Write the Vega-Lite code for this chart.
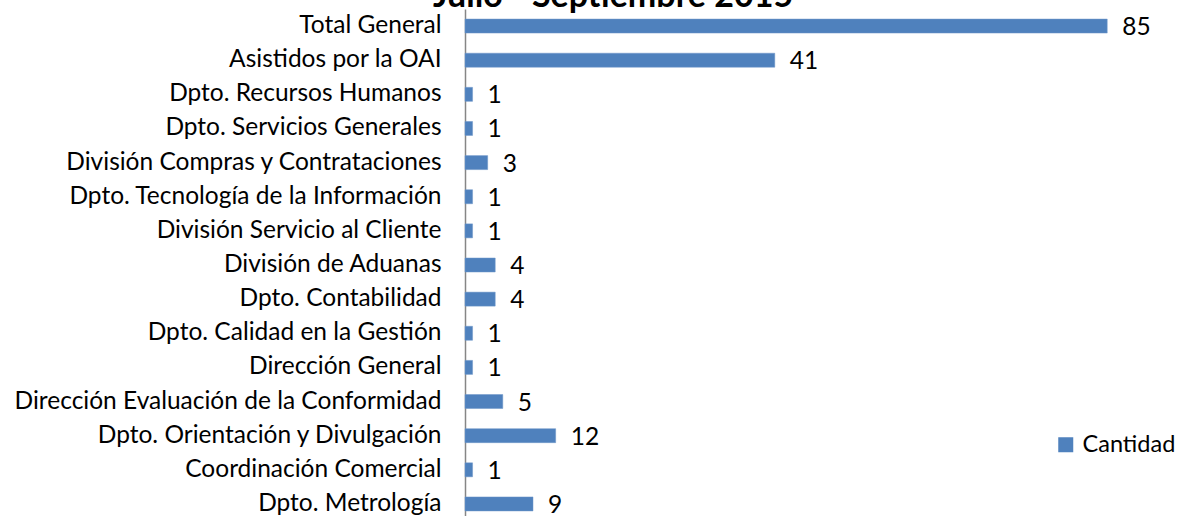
{
  "$schema": "https://vega.github.io/schema/vega-lite/v6.json",
  "autosize": "none",
  "padding": {"left": 465, "top": 9, "right": 34, "bottom": 0},
  "width": 680,
  "height": 512,
  "background": "white",
  "title": {
    "text": "Julio - Septiembre 2015",
    "font": "Lato",
    "fontSize": 34,
    "fontWeight": "bold",
    "color": "black",
    "anchor": "middle",
    "frame": "group",
    "offset": -5,
    "dx": -192
  },
  "data": {
    "values": [
      {"area": "Total General", "cantidad": 85},
      {"area": "Asistidos por la OAI", "cantidad": 41},
      {"area": "Dpto. Recursos Humanos", "cantidad": 1},
      {"area": "Dpto. Servicios Generales", "cantidad": 1},
      {"area": "División Compras y Contrataciones", "cantidad": 3},
      {"area": "Dpto. Tecnología de la Información", "cantidad": 1},
      {"area": "División Servicio al Cliente", "cantidad": 1},
      {"area": "División de Aduanas", "cantidad": 4},
      {"area": "Dpto. Contabilidad", "cantidad": 4},
      {"area": "Dpto. Calidad en la Gestión", "cantidad": 1},
      {"area": "Dirección General", "cantidad": 1},
      {"area": "Dirección Evaluación de la Conformidad", "cantidad": 5},
      {"area": "Dpto. Orientación y Divulgación ", "cantidad": 12},
      {"area": "Coordinación Comercial", "cantidad": 1},
      {"area": "Dpto. Metrología", "cantidad": 9}
    ]
  },
  "encoding": {
    "y": {
      "field": "area",
      "type": "nominal",
      "sort": null,
      "scale": {"paddingInner": 0.59, "paddingOuter": 0.295},
      "axis": {
        "title": null,
        "ticks": false,
        "domainColor": "#868686",
        "domainWidth": 1.5,
        "labelFont": "Lato",
        "labelFontSize": 24.5,
        "labelColor": "black",
        "labelPadding": 24,
        "labelLimit": 0
      }
    },
    "x": {
      "field": "cantidad",
      "type": "quantitative",
      "scale": {"domain": [0, 90], "nice": false},
      "axis": null
    }
  },
  "layer": [
    {
      "mark": {"type": "bar", "stroke": "#6f97c9", "strokeWidth": 0.5},
      "encoding": {
        "color": {
          "datum": "Cantidad",
          "type": "nominal",
          "scale": {"range": ["#4F81BD"]},
          "legend": {
            "title": null,
            "orient": "none",
            "legendX": 589,
            "legendY": 424,
            "symbolType": "square",
            "symbolSize": 225,
            "symbolStrokeWidth": 0,
            "labelFont": "Lato",
            "labelFontSize": 23.5,
            "labelColor": "black",
            "labelOffset": 5
          }
        }
      }
    },
    {
      "mark": {"type": "text", "align": "left", "baseline": "middle", "dx": 15, "dy": 2, "font": "Lato", "fontSize": 24.5, "color": "black"},
      "encoding": {"text": {"field": "cantidad", "type": "quantitative"}}
    }
  ],
  "config": {"view": {"stroke": null}}
}
